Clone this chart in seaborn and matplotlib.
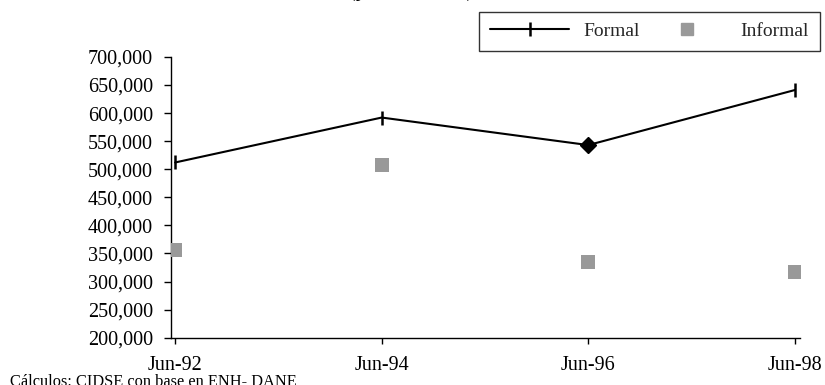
import matplotlib
matplotlib.use("Agg")
import matplotlib.pyplot as plt
from matplotlib.lines import Line2D
from matplotlib.ticker import FuncFormatter
import seaborn as sns
import pandas as pd

# Average labour income by sector
periods = ["Jun-92", "Jun-94", "Jun-96", "Jun-98"]
formal = [512000, 592000, 543000, 641000]
informal = [357000, 508000, 334000, 317000]
formal_marker = ["|", "|", "D", "|"]

df = pd.DataFrame({
    "pos": range(len(periods)),
    "periodo": periods,
    "Formal": formal,
    "Informal": informal,
    "marca": formal_marker,
})

sns.set_theme(style="white")
plt.rcParams["font.family"] = ["Liberation Serif", "DejaVu Serif"]

fig = plt.figure(figsize=(8.25, 3.85), dpi=100)
ax = fig.add_axes([171 / 825, 1 - 337.7 / 385, (800 - 171) / 825, (337.7 - 56.9) / 385])

sns.lineplot(data=df, x="pos", y="Formal", ax=ax, color="black", linewidth=1.5,
             marker="|", markersize=10, markeredgewidth=1.8, markeredgecolor="black")
diam = df[df["marca"] == "D"]
ax.plot(diam["pos"], diam["Formal"], linestyle="none", marker="D", markersize=8,
        color="black", zorder=4)
sns.scatterplot(data=df, x="pos", y="Informal", ax=ax, marker="s", s=110,
                color="#999999", edgecolor="#999999", linewidth=0, zorder=3)

ax.set_xlim(-0.02, 3.025)
ax.set_ylim(200000, 700000)
ax.set_xticks(df["pos"])
ax.set_xticklabels(periods)
ax.set_yticks(range(200000, 700001, 50000))
ax.yaxis.set_major_formatter(FuncFormatter(lambda v, p: f"{int(v):,}"))
ax.set_xlabel("")
ax.set_ylabel("")

for side in ("top", "right"):
    ax.spines[side].set_visible(False)
for side in ("left", "bottom"):
    ax.spines[side].set_color("black")
    ax.spines[side].set_linewidth(1.0)

ax.tick_params(axis="y", which="major", direction="out", length=5, width=1,
               color="black", pad=8, labelsize=14.5, labelcolor="black", left=True)
ax.tick_params(axis="x", which="major", direction="out", length=4, width=1,
               color="black", pad=9, labelsize=14.5, labelcolor="black", bottom=True)

handles = [
    Line2D([], [], color="black", linewidth=1.5, marker="|", markersize=10,
           markeredgewidth=1.8),
    Line2D([], [], color="#999999", linestyle="none", marker="s", markersize=9),
]
leg = fig.legend(handles, ["Formal", "Informal"], loc="upper left",
                 bbox_to_anchor=(479 / 825, 1 - 11.7 / 385), bbox_transform=fig.transFigure,
                 ncol=2, fontsize=14, frameon=True, fancybox=False, shadow=False,
                 handlelength=4.1, handletextpad=0.7, columnspacing=0.4,
                 borderpad=0.55, borderaxespad=0)
leg.get_frame().set_edgecolor("black")
leg.get_frame().set_linewidth(1.0)

fig.text(473 / 825, 1 + 3 / 385, "(pesos de 1998)",
         ha="right", va="baseline", fontsize=14, color="black")
fig.text(10 / 825, 1 - 386 / 385, "Cálculos: CIDSE con base en ENH- DANE",
         ha="left", va="baseline", fontsize=11.8, color="black")

fig.savefig("out.png", dpi=100)
